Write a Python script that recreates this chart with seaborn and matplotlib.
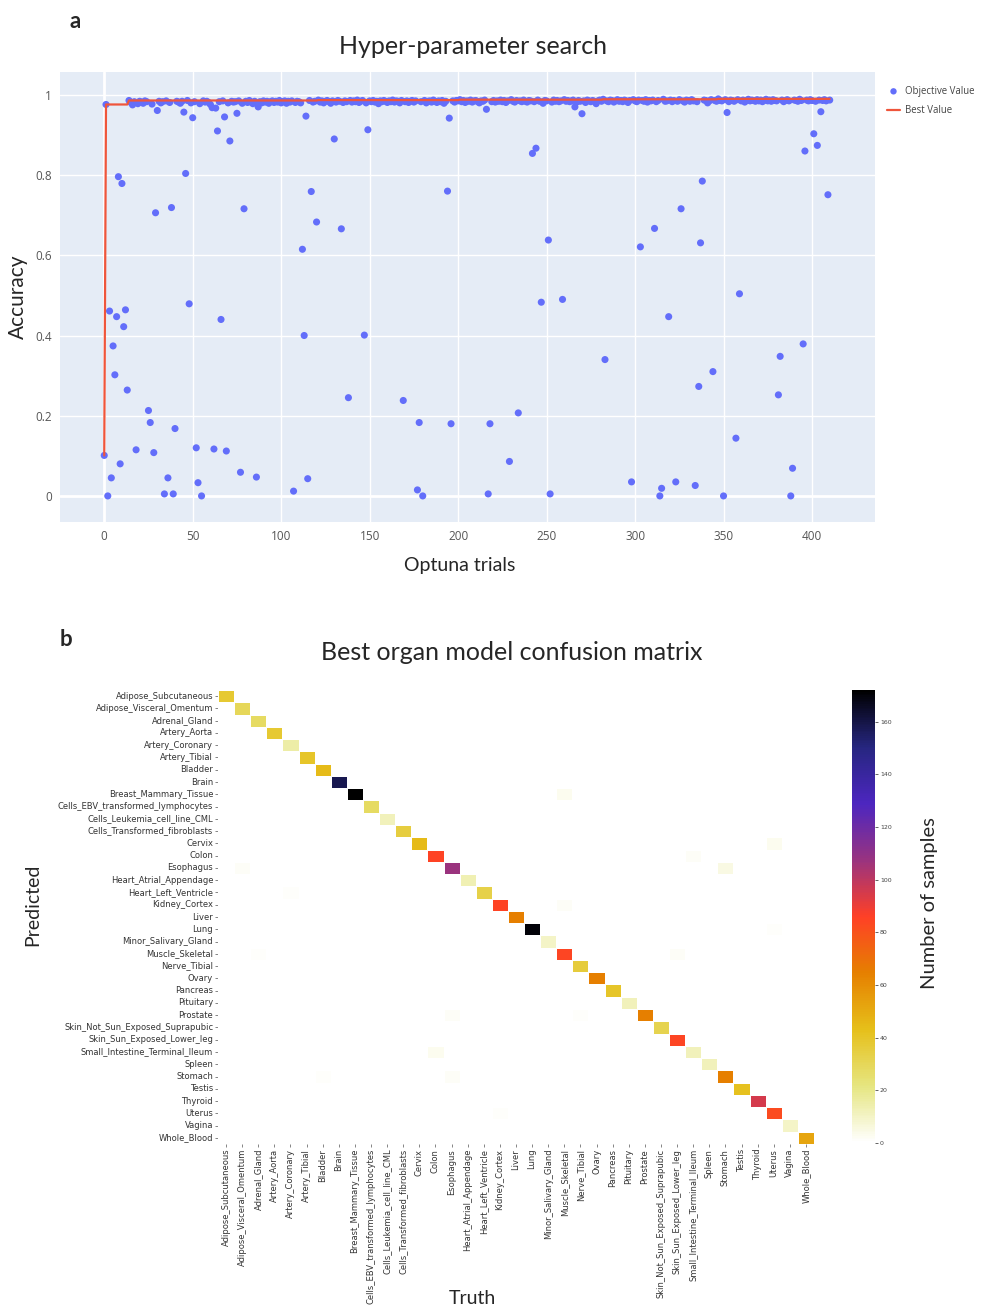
import numpy as np
import pandas as pd
import matplotlib
matplotlib.use("Agg")
import matplotlib.pyplot as plt
import seaborn as sns

# ---- panel a: optuna trials ----
# trials that fall off the top cluster
outlier_trials = [0, 1, 2, 3, 4, 5, 6, 7, 8, 9, 10, 11, 12, 13,
                  18, 25, 26, 28, 29, 30, 34, 36, 38, 39, 40,
                  45, 46, 48, 50, 52, 53, 55,
                  61, 62, 63, 64, 66, 68, 69, 71, 75, 77, 79, 86, 87,
                  107, 112, 113, 114, 115, 117, 120, 130, 134, 138, 147, 149,
                  169, 177, 178, 180, 194, 195, 196, 216, 217, 218, 229, 234,
                  242, 244, 247, 251, 252, 259, 266, 270, 283, 298,
                  303, 311, 314, 315, 319, 323, 326, 334, 336, 337, 338, 344,
                  350, 352, 357, 359, 381, 382, 388, 389, 395, 396, 401, 403, 405, 409]
outlier_values = [0.101, 0.976, 0.0, 0.461, 0.045, 0.374, 0.302, 0.447, 0.796, 0.080, 0.779, 0.422, 0.464, 0.264,
                  0.115, 0.213, 0.183, 0.108, 0.706, 0.961, 0.005, 0.045, 0.719, 0.005, 0.168,
                  0.957, 0.804, 0.479, 0.943, 0.120, 0.033, 0.0,
                  0.968, 0.117, 0.967, 0.910, 0.440, 0.945, 0.112, 0.885, 0.954, 0.059, 0.716, 0.047, 0.970,
                  0.012, 0.615, 0.400, 0.947, 0.043, 0.759, 0.683, 0.890, 0.666, 0.245, 0.401, 0.913,
                  0.238, 0.015, 0.183, 0.0, 0.760, 0.942, 0.180, 0.964, 0.005, 0.180, 0.086, 0.207,
                  0.854, 0.867, 0.483, 0.638, 0.005, 0.490, 0.970, 0.953, 0.340, 0.035,
                  0.621, 0.667, 0.0, 0.019, 0.447, 0.035, 0.716, 0.026, 0.273, 0.631, 0.785, 0.310,
                  0.0, 0.956, 0.144, 0.504, 0.252, 0.348, 0.0, 0.069, 0.379, 0.860, 0.903, 0.874, 0.958, 0.751]

# the dense band near the top, in trial order (all remaining trials)
top_values = [
    0.986, 0.981, 0.975, 0.983, 0.978, 0.984, 0.982, 0.979, 0.985, 0.983, 0.977, 0.984, 0.980, 0.983, 0.985, 0.981, 0.984,
    0.982, 0.979, 0.984, 0.986, 0.980, 0.983, 0.978, 0.985, 0.982, 0.984, 0.981, 0.976, 0.983, 0.985, 0.980, 0.984, 0.982,
    0.983, 0.985, 0.979, 0.984, 0.981, 0.986, 0.982, 0.978, 0.984, 0.983, 0.980, 0.985, 0.982, 0.984, 0.979, 0.983, 0.985,
    0.981, 0.984, 0.982, 0.986, 0.980, 0.983, 0.985, 0.979, 0.984, 0.982, 0.985, 0.981, 0.984, 0.983, 0.980, 0.986, 0.982,
    0.984, 0.987, 0.982, 0.985, 0.980, 0.984, 0.986, 0.983, 0.979, 0.985, 0.982, 0.986, 0.984, 0.981, 0.985, 0.983, 0.986,
    0.982, 0.985, 0.983, 0.987, 0.981, 0.984, 0.986, 0.980, 0.985, 0.983, 0.986, 0.982, 0.984, 0.978, 0.985, 0.983, 0.986,
    0.984, 0.981, 0.985, 0.983, 0.987, 0.982, 0.985, 0.984, 0.980, 0.986, 0.983, 0.985, 0.981, 0.984, 0.986, 0.982, 0.985,
    0.983, 0.986, 0.980, 0.984, 0.985, 0.982, 0.987, 0.984, 0.981, 0.985, 0.983, 0.986, 0.979, 0.984, 0.985, 0.982, 0.986,
    0.985, 0.988, 0.983, 0.986, 0.981, 0.985, 0.984, 0.987, 0.982, 0.985, 0.986, 0.983, 0.980, 0.985, 0.984, 0.987, 0.983,
    0.986, 0.982, 0.985, 0.984, 0.987, 0.983, 0.986, 0.981, 0.985, 0.988, 0.984, 0.982, 0.986, 0.985, 0.983, 0.987, 0.984,
    0.982, 0.986, 0.985, 0.983, 0.987, 0.984, 0.979, 0.986, 0.985, 0.982, 0.987, 0.984, 0.986, 0.983, 0.985, 0.988, 0.984,
    0.986, 0.983, 0.985, 0.987, 0.982, 0.986, 0.984, 0.985, 0.981, 0.987, 0.985, 0.983, 0.986, 0.984, 0.978, 0.985, 0.987,
    0.984, 0.989, 0.985, 0.983, 0.987, 0.986, 0.982, 0.985, 0.988, 0.984, 0.986, 0.983, 0.987, 0.985, 0.981, 0.986, 0.988,
    0.985, 0.983, 0.987, 0.986, 0.984, 0.988, 0.982, 0.986, 0.985, 0.987, 0.983, 0.986, 0.989, 0.984, 0.985, 0.987, 0.983,
    0.986, 0.984, 0.988, 0.985, 0.982, 0.987, 0.986, 0.984, 0.988, 0.985, 0.983, 0.987, 0.986, 0.980, 0.985, 0.988, 0.986,
    0.984, 0.990, 0.986, 0.985, 0.988, 0.983, 0.987, 0.986, 0.984, 0.988, 0.985, 0.987, 0.982, 0.986, 0.989, 0.985, 0.987,
    0.986, 0.984, 0.988, 0.985, 0.987, 0.983, 0.986, 0.989, 0.985, 0.987, 0.984, 0.988, 0.986, 0.985, 0.987, 0.983, 0.986,
    0.988, 0.985, 0.987, 0.986, 0.984, 0.989, 0.986, 0.987, 0.985, 0.988, 0.986, 0.984, 0.987, 0.986, 0.988, 0.985, 0.987,
]

# ---- panel b: confusion matrix ----
organs = ["Adipose_Subcutaneous", "Adipose_Visceral_Omentum", "Adrenal_Gland", "Artery_Aorta",
          "Artery_Coronary", "Artery_Tibial", "Bladder", "Brain", "Breast_Mammary_Tissue",
          "Cells_EBV_transformed_lymphocytes", "Cells_Leukemia_cell_line_CML",
          "Cells_Transformed_fibroblasts", "Cervix", "Colon", "Esophagus",
          "Heart_Atrial_Appendage", "Heart_Left_Ventricle", "Kidney_Cortex", "Liver", "Lung",
          "Minor_Salivary_Gland", "Muscle_Skeletal", "Nerve_Tibial", "Ovary", "Pancreas",
          "Pituitary", "Prostate", "Skin_Not_Sun_Exposed_Suprapubic", "Skin_Sun_Exposed_Lower_leg",
          "Small_Intestine_Terminal_Ileum", "Spleen", "Stomach", "Testis", "Thyroid", "Uterus",
          "Vagina", "Whole_Blood"]
diag_counts = [38, 30, 28, 38, 15, 40, 45, 158, 172, 28, 12, 35, 45, 85, 107, 13, 33, 85, 65,
               170, 10, 84, 36, 65, 40, 12, 65, 32, 84, 12, 12, 65, 42, 95, 82, 10, 52]
off_pred = ["Breast_Mammary_Tissue", "Cervix", "Colon", "Esophagus", "Esophagus",
            "Heart_Left_Ventricle", "Kidney_Cortex", "Lung", "Muscle_Skeletal", "Muscle_Skeletal",
            "Prostate", "Prostate", "Small_Intestine_Terminal_Ileum", "Stomach", "Stomach", "Uterus"]
off_truth = ["Muscle_Skeletal", "Uterus", "Small_Intestine_Terminal_Ileum", "Stomach",
             "Adipose_Visceral_Omentum", "Artery_Coronary", "Muscle_Skeletal", "Uterus",
             "Adrenal_Gland", "Skin_Sun_Exposed_Lower_leg", "Esophagus", "Nerve_Tibial",
             "Colon", "Esophagus", "Bladder", "Kidney_Cortex"]
off_counts = [3, 3, 2, 5, 2, 1, 2, 1, 1, 2, 2, 1, 3, 2, 1, 1]

# assemble the trial series
n_trials = len(outlier_trials) + len(top_values)
acc = np.empty(n_trials)
mask = np.zeros(n_trials, dtype=bool)
acc[outlier_trials] = outlier_values
mask[outlier_trials] = True
acc[~mask] = top_values
trials = pd.DataFrame({"trial": np.arange(n_trials), "accuracy": acc})
trials["best"] = trials["accuracy"].cummax()

# assemble the confusion matrix (rows = predicted, columns = truth)
cm = pd.DataFrame(0, index=organs, columns=organs)
for o, c in zip(organs, diag_counts):
    cm.loc[o, o] = c
for p, t, c in zip(off_pred, off_truth, off_counts):
    cm.loc[p, t] = c

sns.set_style("white")
plt.rcParams["font.family"] = ["DejaVu Sans"]

W, H = 982, 1308
fig = plt.figure(figsize=(W / 100, H / 100), dpi=100)

def box(l, t, r, b):
    return [l / W, 1 - b / H, (r - l) / W, (b - t) / H]

# ---- panel a ----
ax1 = fig.add_axes(box(60, 72, 875, 522))
ax1.set_facecolor("#E5ECF6")
ax1.grid(True, color="white", lw=1)
ax1.set_axisbelow(True)
ax1.axhline(0, color="white", lw=2, zorder=0.5)
ax1.axvline(0, color="white", lw=2, zorder=0.5)
sns.scatterplot(data=trials, x="trial", y="accuracy", ax=ax1, color="#636EFA",
                s=26, edgecolor="none", label="Objective Value", zorder=2)
sns.lineplot(data=trials, x="trial", y="best", ax=ax1, color="#EF553B",
             lw=1.6, label="Best Value", zorder=3)
ax1.set_xlim(-25, 435.6)
ax1.set_ylim(-0.065, 1.057)
ax1.set_xticks(range(0, 401, 50))
ax1.set_yticks([0, 0.2, 0.4, 0.6, 0.8, 1])
ax1.set_yticklabels(["0", "0.2", "0.4", "0.6", "0.8", "1"])
ax1.tick_params(length=0, labelsize=8.5, labelcolor="#555555", pad=6)
for lab in ax1.get_xticklabels() + ax1.get_yticklabels():
    lab.set_family("Open Sans")
for s in ax1.spines.values():
    s.set_visible(False)
ax1.set_xlabel("")
ax1.set_ylabel("")
leg = ax1.legend(loc="upper left", bbox_to_anchor=(1.008, 0.982), frameon=False,
                 fontsize=6.9, handlelength=1.3, handletextpad=0.5, borderaxespad=0.2,
                 labelspacing=0.9, markerscale=0.9)
for t in leg.get_texts():
    t.set_family("Open Sans")
    t.set_color("#444444")

fig.text(75 / W, 1 - 21 / H, "a", fontsize=16, fontweight="bold", family="Lato", ha="center", va="center")
fig.text(473 / W, 1 - 46 / H, "Hyper-parameter search", fontsize=18, family="Lato", ha="center", va="center")
fig.text(18 / W, 1 - 297 / H, "Accuracy", fontsize=15, family="Lato", rotation=90, ha="center", va="center")
fig.text(460 / W, 1 - 566 / H, "Optuna trials", fontsize=14, family="Lato", ha="center", va="center")

# ---- panel b ----
ax2 = fig.add_axes(box(218, 690, 814, 1144))
cax = fig.add_axes(box(852, 690, 875, 1143))
sns.heatmap(cm, cmap="CMRmap_r", vmin=0, ax=ax2, cbar_ax=cax, linewidths=0.6, linecolor="white",
            xticklabels=True, yticklabels=True, cbar_kws={"ticks": list(range(0, 161, 20))})
ax2.set_xlabel("")
ax2.set_ylabel("")
ax2.tick_params(axis="both", labelsize=6.0, length=2, width=0.5, color="#555555",
                left=True, bottom=True, pad=1.5, labelcolor="#333333")
ax2.tick_params(axis="x", labelrotation=90)
ax2.tick_params(axis="y", labelrotation=0)
cax.tick_params(labelsize=4.5, length=2, width=0.5, right=True, pad=1.5, labelcolor="#444444")
ax2.collections[0].colorbar.outline.set_visible(False)

fig.text(66 / W, 1 - 640 / H, "b", fontsize=16, fontweight="bold", family="Lato", ha="center", va="center")
fig.text(512 / W, 1 - 652 / H, "Best organ model confusion matrix", fontsize=18, family="Lato",
         ha="center", va="center")
fig.text(33 / W, 1 - 905 / H, "Predicted", fontsize=14, family="Lato", rotation=90, ha="center", va="center")
fig.text(472 / W, 1 - 1298 / H, "Truth", fontsize=14, family="Lato", ha="center", va="center")
fig.text(929 / W, 1 - 903 / H, "Number of samples", fontsize=14.5, family="Lato", rotation=90,
         ha="center", va="center")

fig.savefig("out.png", dpi=100)
